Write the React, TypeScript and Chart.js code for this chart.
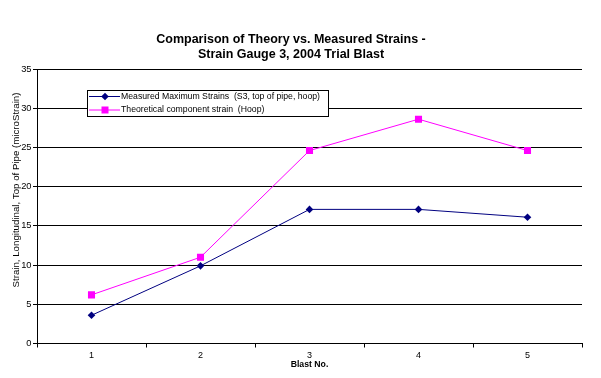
import React, { useEffect, useRef } from "react";
import { Chart, registerables } from "chart.js";

Chart.register(...registerables);

const blastNumbers = ["1", "2", "3", "4", "5"];
const measuredStrains = [3.6, 9.9, 17.1, 17.1, 16.1];
const theoreticalStrains = [6.2, 11.0, 24.6, 28.6, 24.6];
const yTicks = [0, 5, 10, 15, 20, 25, 30, 35];

const titleLines = ["Comparison of Theory vs. Measured Strains -", "Strain Gauge 3, 2004 Trial Blast"];
const yAxisTitle = "Strain, Longitudinal, Top of Pipe (microStrain)";
const xAxisTitle = "Blast No.";
const measuredLabel = "Measured Maximum Strains  (S3, top of pipe, hoop)";
const theoreticalLabel = "Theoretical component strain  (Hoop)";

const FONT = "'Liberation Sans', Arial, sans-serif";

const overlayPlugin = {
  id: "overlay",
  afterDraw(chart: any) {
    const ctx = chart.ctx;
    const area = chart.chartArea;
    ctx.save();
    // y axis title
    ctx.fillStyle = "#000";
    ctx.font = `9.7px ${FONT}`;
    ctx.textAlign = "center";
    ctx.textBaseline = "middle";
    ctx.translate(16, 190);
    ctx.rotate(-Math.PI / 2);
    ctx.fillText(yAxisTitle, 0, 0);
    ctx.restore();

    // x axis title
    ctx.save();
    ctx.fillStyle = "#000";
    ctx.font = `bold 8.7px ${FONT}`;
    ctx.textAlign = "center";
    ctx.textBaseline = "middle";
    ctx.fillText(xAxisTitle, (area.left + area.right) / 2, 365);
    ctx.restore();

    // legend
    ctx.save();
    const bx = 87.5, by = 90.5, bw = 241, bh = 26;
    ctx.fillStyle = "#fff";
    ctx.fillRect(bx, by, bw, bh);
    ctx.strokeStyle = "#000";
    ctx.lineWidth = 1;
    ctx.strokeRect(bx, by, bw, bh);
    const rows = [96.5, 110];
    chart.data.datasets.forEach((ds: any, i: number) => {
      const y = rows[i];
      ctx.strokeStyle = ds.borderColor;
      ctx.lineWidth = 1;
      ctx.beginPath();
      ctx.moveTo(89, y);
      ctx.lineTo(120, y);
      ctx.stroke();
      ctx.fillStyle = ds.backgroundColor;
      const cx = 105;
      if (ds.pointStyle === "rectRot") {
        const r = 3.8;
        ctx.beginPath();
        ctx.moveTo(cx, y - r);
        ctx.lineTo(cx + r, y);
        ctx.lineTo(cx, y + r);
        ctx.lineTo(cx - r, y);
        ctx.closePath();
        ctx.fill();
      } else {
        ctx.fillRect(cx - 3.5, y - 3.5, 7, 7);
      }
      ctx.fillStyle = "#000";
      ctx.font = `8.7px ${FONT}`;
      ctx.textAlign = "left";
      ctx.textBaseline = "middle";
      ctx.fillText(ds.label, 121, y);
    });
    ctx.restore();
  },
};

export default function App() {
  const ref = useRef<HTMLCanvasElement | null>(null);
  useEffect(() => {
    document.body.style.margin = "0";
    if (!ref.current) return;
    const chart = new Chart(ref.current, {
      type: "line",
      data: {
        labels: blastNumbers,
        datasets: [
          {
            label: measuredLabel,
            data: measuredStrains,
            borderColor: "#000080",
            backgroundColor: "#000080",
            borderWidth: 1,
            pointStyle: "rectRot",
            pointRadius: 3.8,
            pointBorderWidth: 0,
            pointHoverRadius: 3.8,
            tension: 0,
          },
          {
            label: theoreticalLabel,
            data: theoreticalStrains,
            borderColor: "#FF00FF",
            backgroundColor: "#FF00FF",
            borderWidth: 1,
            pointStyle: "rect",
            pointRadius: 5,
            pointBorderWidth: 0,
            pointHoverRadius: 5,
            tension: 0,
          },
        ],
      },
      options: {
        responsive: false,
        animation: false,
        events: [],
        layout: { padding: { left: 0, right: 19, top: 0, bottom: 0 } },
        plugins: {
          legend: { display: false },
          tooltip: { enabled: false },
          title: {
            display: true,
            text: titleLines,
            color: "#000",
            font: { family: FONT, size: 12.5, weight: "bold", lineHeight: 1.2 },
            padding: { top: 32.5, bottom: 6.5 },
          },
        },
        scales: {
          x: {
            type: "category",
            offset: true,
            grid: {
              display: true,
              drawOnChartArea: false,
              drawTicks: true,
              tickLength: 4,
              color: "#000",
              offset: true,
            },
            border: { display: true, color: "#000", width: 1 },
            ticks: {
              color: "#000",
              font: { family: FONT, size: 9 },
              padding: 3,
              maxRotation: 0,
            },
            afterFit: (scale: any) => {
              scale.height = 34.5;
            },
          },
          y: {
            min: 0,
            max: 35,
            afterBuildTicks: (scale: any) => {
              scale.ticks = yTicks.map((v) => ({ value: v }));
            },
            grid: {
              color: "#000",
              lineWidth: 1,
              tickLength: 4,
              drawTicks: true,
            },
            border: { display: true, color: "#000", width: 1 },
            ticks: {
              color: "#000",
              font: { family: FONT, size: 9.3 },
              padding: 1.5,
            },
            afterFit: (scale: any) => {
              scale.width = 37;
            },
          },
        },
      },
      plugins: [overlayPlugin],
    });
    return () => chart.destroy();
  }, []);
  return (
    <div style={{ width: 601, height: 378 }}>
      <canvas ref={ref} width={601} height={378} style={{ display: "block" }} />
    </div>
  );
}
